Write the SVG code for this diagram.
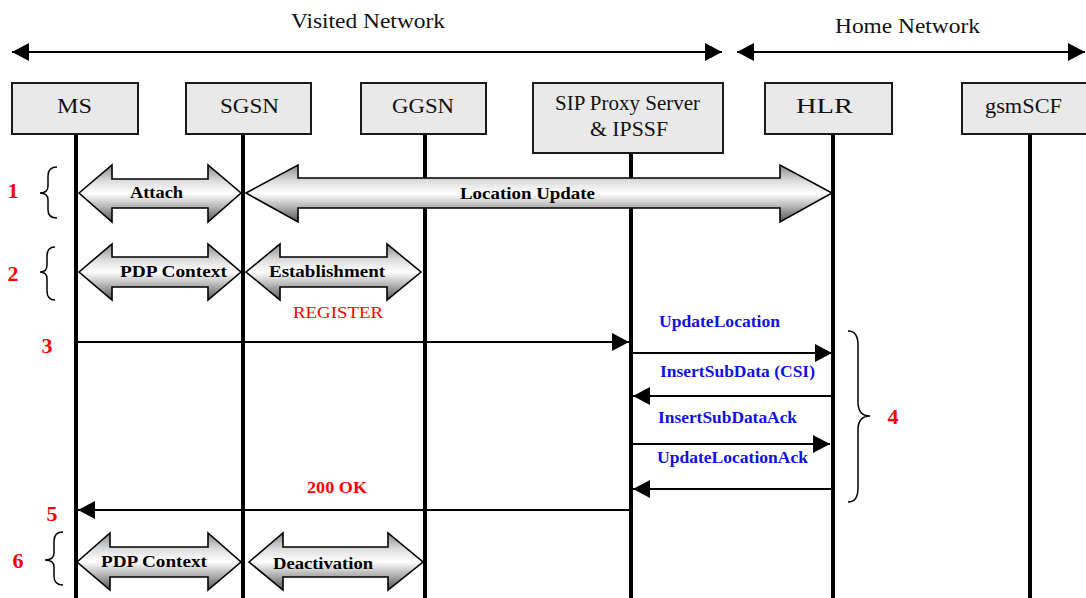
<svg xmlns="http://www.w3.org/2000/svg" width="1086" height="598" viewBox="0 0 1086 598">
<style>
text{font-family:"Liberation Serif","Times New Roman",serif;}
.box{fill:#e9e9e9;stroke:#1a1a1a;stroke-width:2;}
.life{stroke:#000;stroke-width:4;}
.bt{font-size:20px;fill:#111;}
.hdr{font-size:21px;fill:#111;}
.blk{fill:url(#g);stroke:#000;stroke-width:1.6;stroke-linejoin:miter;}
.bl{font-size:16px;font-weight:bold;fill:#000;}
.msg{stroke:#000;stroke-width:2;fill:none;}
.blue{font-size:16px;font-weight:bold;fill:#1010e8;}
.red{font-size:16px;fill:#ff0000;}
.num{font-size:22px;font-weight:bold;fill:#ff0000;}
.brace{fill:none;stroke:#000;stroke-width:1.5;}
</style>
<defs>
<linearGradient id="g" x1="0" y1="0" x2="0" y2="1">
<stop offset="0" stop-color="#8a8a8a"/>
<stop offset="0.28" stop-color="#dcdcdc"/>
<stop offset="0.5" stop-color="#ffffff"/>
<stop offset="0.72" stop-color="#b8b8b8"/>
<stop offset="1" stop-color="#555555"/>
</linearGradient>
<marker id="ah" markerUnits="userSpaceOnUse" markerWidth="18" markerHeight="18" refX="17" refY="9" orient="auto">
<path d="M0,0 L17,9 L0,18 z" fill="#000"/>
</marker>
<marker id="ahs" markerUnits="userSpaceOnUse" markerWidth="18" markerHeight="18" refX="17" refY="9" orient="auto-start-reverse">
<path d="M0,0 L17,9 L0,18 z" fill="#000"/>
</marker>
</defs>
<rect width="1086" height="598" fill="#fff"/>

<g id="header">
<text class="hdr" x="291" y="28" textLength="154" lengthAdjust="spacingAndGlyphs">Visited Network</text>
<text class="hdr" x="835" y="33" textLength="145" lengthAdjust="spacingAndGlyphs">Home Network</text>
<line x1="12" y1="52" x2="722" y2="52" stroke="#000" stroke-width="2" marker-start="url(#ahs)" marker-end="url(#ah)"/>
<line x1="737" y1="52" x2="1085" y2="52" stroke="#000" stroke-width="2" marker-start="url(#ahs)" marker-end="url(#ah)"/>
</g>

<g id="node-ms">
<line class="life" x1="76" y1="134" x2="76" y2="598"/>
<rect class="box" x="12" y="83" width="126" height="51"/>
<text class="bt" x="57" y="113" textLength="35" lengthAdjust="spacingAndGlyphs">MS</text>
</g>
<g id="node-sgsn">
<line class="life" x1="243" y1="134" x2="243" y2="598"/>
<rect class="box" x="186" y="83" width="125" height="51"/>
<text class="bt" x="220" y="113" textLength="59" lengthAdjust="spacingAndGlyphs">SGSN</text>
</g>
<g id="node-ggsn">
<line class="life" x1="425" y1="134" x2="425" y2="598"/>
<rect class="box" x="361" y="83" width="125" height="51"/>
<text class="bt" x="392" y="113" textLength="62" lengthAdjust="spacingAndGlyphs">GGSN</text>
</g>
<g id="node-sip">
<line class="life" x1="631" y1="153" x2="631" y2="598"/>
<rect class="box" x="533" y="83" width="190" height="70"/>
<text class="bt" x="555" y="110" textLength="145" lengthAdjust="spacingAndGlyphs">SIP Proxy Server</text>
<text class="bt" x="590" y="136" textLength="78" lengthAdjust="spacingAndGlyphs">&amp; IPSSF</text>
</g>
<g id="node-hlr">
<line class="life" x1="833" y1="134" x2="833" y2="598"/>
<rect class="box" x="765" y="83" width="127" height="51"/>
<text class="bt" x="796" y="113" textLength="57" lengthAdjust="spacingAndGlyphs">HLR</text>
</g>
<g id="node-gsmscf">
<line class="life" x1="1030" y1="134" x2="1030" y2="598"/>
<rect class="box" x="962" y="83" width="130" height="51"/>
<text class="bt" x="985" y="113" textLength="77" lengthAdjust="spacingAndGlyphs">gsmSCF</text>
</g>

<g id="connectors">
<polygon class="blk" points="79,193 112,165 112,179 208,179 208,165 241,193 208,222 208,208 112,208 112,222"/>
<polygon class="blk" points="246,193 298,165 298,178 780,178 780,165 832,193 780,222 780,208 298,208 298,222"/>
<polygon class="blk" points="79,272 112,244 112,257 208,257 208,244 241,272 208,300 208,287 112,287 112,300"/>
<polygon class="blk" points="246,272 280,244 280,257 387,257 387,244 421,272 387,300 387,287 280,287 280,300"/>
<polygon class="blk" points="77,562 110,533 110,547 208,547 208,533 241,562 208,590 208,577 110,577 110,590"/>
<polygon class="blk" points="249,562 283,533 283,547 388,547 388,533 423,562 388,590 388,577 283,577 283,590"/>
<line class="msg" x1="78" y1="342" x2="629" y2="342" stroke-width="1.5" marker-end="url(#ah)"/>
<line class="msg" x1="633" y1="353" x2="832" y2="353" marker-end="url(#ah)"/>
<line class="msg" x1="831" y1="396" x2="633" y2="396" marker-end="url(#ah)"/>
<line class="msg" x1="633" y1="444" x2="830" y2="444" marker-end="url(#ah)"/>
<line class="msg" x1="831" y1="489" x2="633" y2="489" marker-end="url(#ah)"/>
<line class="msg" x1="629" y1="510" x2="78" y2="510" stroke-width="1.5" marker-end="url(#ah)"/>
</g>

<g id="labels">
<text class="bl" x="130" y="198" textLength="53" lengthAdjust="spacingAndGlyphs">Attach</text>
<text class="bl" x="460" y="199" textLength="135" lengthAdjust="spacingAndGlyphs">Location Update</text>
<text class="bl" x="120" y="277" textLength="107" lengthAdjust="spacingAndGlyphs">PDP Context</text>
<text class="bl" x="269" y="277" textLength="116" lengthAdjust="spacingAndGlyphs">Establishment</text>
<text class="bl" x="101" y="567" textLength="106" lengthAdjust="spacingAndGlyphs">PDP Context</text>
<text class="bl" x="273" y="569" textLength="100" lengthAdjust="spacingAndGlyphs">Deactivation</text>
<text class="red" x="293" y="318" textLength="90" lengthAdjust="spacingAndGlyphs">REGISTER</text>
<text class="red" x="307" y="493" font-weight="bold" textLength="60" lengthAdjust="spacingAndGlyphs">200 OK</text>
<text class="blue" x="659" y="327" textLength="121" lengthAdjust="spacingAndGlyphs">UpdateLocation</text>
<text class="blue" x="660" y="377" textLength="155" lengthAdjust="spacingAndGlyphs">InsertSubData (CSI)</text>
<text class="blue" x="658" y="423" textLength="139" lengthAdjust="spacingAndGlyphs">InsertSubDataAck</text>
<text class="blue" x="657" y="463" textLength="151" lengthAdjust="spacingAndGlyphs">UpdateLocationAck</text>
</g>

<g id="steps">
<path class="brace" d="M57,167 Q48,167 48,176 L48,186 Q48,193 40,193 Q48,193 48,200 L48,210 Q48,218 57,218"/>
<path class="brace" d="M55,247 Q47,247 47,256 L47,265 Q47,272 40,272 Q47,272 47,279 L47,291 Q47,300 55,300"/>
<path class="brace" d="M63,532 Q54,532 54,541 L54,553 Q54,560 45,560 Q54,560 54,567 L54,576 Q54,585 63,585"/>
<path class="brace" d="M848,331 Q858,331 858,345 L858,402 Q858,416 870,416 Q858,416 858,430 L858,488 Q858,502 848,502"/>
<text class="num" x="13" y="198" text-anchor="middle">1</text>
<text class="num" x="13" y="281" text-anchor="middle">2</text>
<text class="num" x="47" y="353" text-anchor="middle">3</text>
<text class="num" x="893" y="424" text-anchor="middle">4</text>
<text class="num" x="52" y="521" text-anchor="middle">5</text>
<text class="num" x="18" y="568" text-anchor="middle">6</text>
</g>
</svg>
